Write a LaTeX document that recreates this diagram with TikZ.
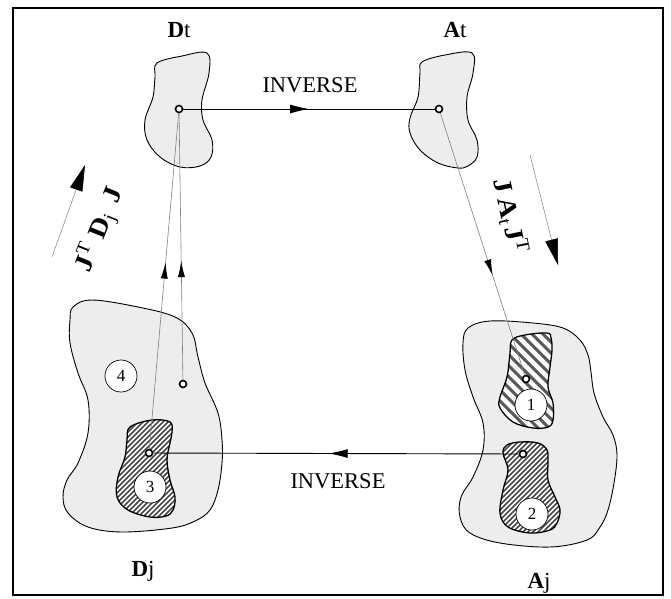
\documentclass[tikz,border=0pt]{standalone}
\usepackage{fontspec}
\setmainfont{Liberation Serif}
\usetikzlibrary{arrows.meta,decorations.markings}
\begin{document}
\begin{tikzpicture}[x=1pt,y=-1pt,
  blob/.style={draw=black, line width=0.9pt, fill=black!7},
  hatchreg/.style={draw=black, line width=1.3pt},
  hatchline/.style={black!72, line width=1.7pt},
  dot/.style={circle, draw=black, fill=white, line width=1.6pt, minimum size=7pt, inner sep=0pt},
  numc/.style={circle, draw=black, fill=white, line width=0.7pt, minimum size=32pt, inner sep=0pt, font=\fontsize{17}{17}\selectfont},
  lbl/.style={font=\fontsize{23}{23}\selectfont, inner sep=0pt},
  sidelbl/.style={font=\fontsize{26}{26}\selectfont, inner sep=0pt},
  invline/.style={draw=black, line width=0.9pt, postaction={decorate},
    decoration={markings, mark=at position #1 with {\arrow{Latex[length=19pt,width=9pt]}}}},
  thinline/.style={draw=black!50, line width=0.6pt, postaction={decorate},
    decoration={markings, mark=at position #1 with {\arrow[black]{Latex[length=16pt,width=7pt]}}}},
  bigarrow/.style={draw=black!50, line width=0.5pt, -{Triangle[length=26pt,width=13pt,color=black]}}
]
\fill[white] (0,0) rectangle (671,598);
\useasboundingbox (0,0) rectangle (671,598);
\draw[line width=2.6pt] (13,8) rectangle (663,595);

% Dt blob
\draw[blob] plot[smooth cycle, tension=0.6] coordinates {(157,63) (182,56) (207,53) (209,73) (202,100) (203,120) (212,140) (211,157) (200,166) (180,167) (160,157) (147,140) (145,120) (153,97) (155,77)};
% At blob
\draw[blob] plot[smooth cycle, tension=0.6] coordinates {(422,62) (445,55) (472,53) (473,73) (467,97) (468,120) (477,140) (477,157) (468,166) (458,168) (438,163) (420,150) (410,133) (410,118) (418,97) (420,73)};
% Dj blob
\draw[blob] plot[smooth cycle, tension=0.6] coordinates {(73,307) (92,300) (138,307) (175,317) (192,333) (198,357) (205,383) (218,413) (222,440) (222,463) (218,490) (210,510) (195,521) (172,528) (122,532) (88,527) (68,513) (63,497) (67,480) (78,463) (88,433) (88,400) (78,373) (70,343) (70,320)};
% Aj blob
\draw[blob] plot[smooth cycle, tension=0.6] coordinates {(468,328) (490,321) (533,323) (563,328) (580,340) (588,355) (591,372) (594,393) (603,417) (613,435) (617,455) (614,483) (608,510) (600,527) (587,540) (550,547) (500,543) (470,533) (460,517) (461,497) (473,477) (483,450) (483,423) (473,397) (465,370) (463,343)};

% region 3
\fill[white] plot[smooth cycle, tension=0.6] coordinates {(130,427) (152,420) (170,422) (172,432) (170,443) (167,460) (170,480) (175,497) (173,510) (166,516) (150,517) (128,510) (117,497) (118,477) (125,457) (127,440)};
\begin{scope}
\clip plot[smooth cycle, tension=0.6] coordinates {(130,427) (152,420) (170,422) (172,432) (170,443) (167,460) (170,480) (175,497) (173,510) (166,516) (150,517) (128,510) (117,497) (118,477) (125,457) (127,440)};
\foreach \k in {0,...,44} \draw[hatchline] (-20+\k*5,530) -- ++(130,-130);
\end{scope}
\draw[hatchreg] plot[smooth cycle, tension=0.6] coordinates {(130,427) (152,420) (170,422) (172,432) (170,443) (167,460) (170,480) (175,497) (173,510) (166,516) (150,517) (128,510) (117,497) (118,477) (125,457) (127,440)};

% region 1
\fill[white] plot[smooth cycle, tension=0.6] coordinates {(512,340) (525,335) (547,333) (551,338) (552,350) (550,367) (548,387) (553,403) (553,420) (548,427) (533,428) (513,422) (500,408) (500,397) (507,377) (510,353)};
\begin{scope}
\clip plot[smooth cycle, tension=0.6] coordinates {(512,340) (525,335) (547,333) (551,338) (552,350) (550,367) (548,387) (553,403) (553,420) (548,427) (533,428) (513,422) (500,408) (500,397) (507,377) (510,353)};
\foreach \k in {0,...,20} \draw[black!65, line width=3pt] (380+\k*11,325) -- ++(120,120);
\end{scope}
\draw[hatchreg] plot[smooth cycle, tension=0.6] coordinates {(512,340) (525,335) (547,333) (551,338) (552,350) (550,367) (548,387) (553,403) (553,420) (548,427) (533,428) (513,422) (500,408) (500,397) (507,377) (510,353)};

% region 2
\fill[white] plot[smooth cycle, tension=0.6] coordinates {(507,445) (520,442) (538,443) (547,450) (548,462) (548,480) (555,497) (560,510) (557,523) (550,530) (530,533) (508,527) (500,513) (503,490) (508,470) (503,453)};
\begin{scope}
\clip plot[smooth cycle, tension=0.6] coordinates {(507,445) (520,442) (538,443) (547,450) (548,462) (548,480) (555,497) (560,510) (557,523) (550,530) (530,533) (508,527) (500,513) (503,490) (508,470) (503,453)};
\foreach \k in {0,...,44} \draw[hatchline] (370+\k*5,545) -- ++(120,-120);
\end{scope}
\draw[hatchreg] plot[smooth cycle, tension=0.6] coordinates {(507,445) (520,442) (538,443) (547,450) (548,462) (548,480) (555,497) (560,510) (557,523) (550,530) (530,533) (508,527) (500,513) (503,490) (508,470) (503,453)};

% numbered circles
\node[numc] (n4) at (121,376) {4};
\node[numc] (n3) at (150,487) {3};
\node[numc] (n1) at (531,405) {1};
\node[numc] (n2) at (532,514) {2};

% points
\node[dot] (pDt) at (179,109) {};
\node[dot] (pAt) at (439,109) {};
\node[dot] (pD3) at (149,453) {};
\node[dot] (pD4) at (183,384) {};
\node[dot] (pA1) at (526,379) {};
\node[dot] (pA2) at (523,454) {};

% connectors
\draw[invline=0.5] (pDt) -- (pAt);
\draw[invline=0.52] (pA2) -- (pD3);
\draw[thinline=0.555] (pD3) -- (pDt);
\draw[thinline=0.445] (pD4) -- (pDt);
\draw[thinline=0.62] (pAt) -- (pA1);

% labels
\node[lbl] (lDt) at (179,30) {\textbf{D}t};
\node[lbl] (lAt) at (455,30) {\textbf{A}t};
\node[lbl] (lDj) at (143,571) {\textbf{D}j};
\node[lbl] (lAj) at (539,583) {\textbf{A}j};
\node[lbl, font=\fontsize{22.5}{22.5}\selectfont] (inv1) at (310,85) {INVERSE};
\node[lbl, font=\fontsize{22.5}{22.5}\selectfont] (inv2) at (338,481) {INVERSE};

\node[sidelbl, rotate=68, xscale=1.1] (sl) at (100,230) {\textbf{J}\textsuperscript{T}\hspace{0.3em}\textbf{D}\textsubscript{j}\hspace{0.4em}\textbf{J}};
\node[sidelbl, rotate=-78, xscale=1.1] (sr) at (510,216) {\textbf{J}\hspace{0.2em}\textbf{A}\textsubscript{t}\hspace{0.1em}\textbf{J}\textsuperscript{T}};

\coordinate (la1) at (52,257);
\coordinate (la2) at (85,165);
\coordinate (ra1) at (530,155);
\coordinate (ra2) at (558,265);
\draw[bigarrow] (la1) -- (la2);
\draw[bigarrow] (ra1) -- (ra2);
\end{tikzpicture}
\end{document}
